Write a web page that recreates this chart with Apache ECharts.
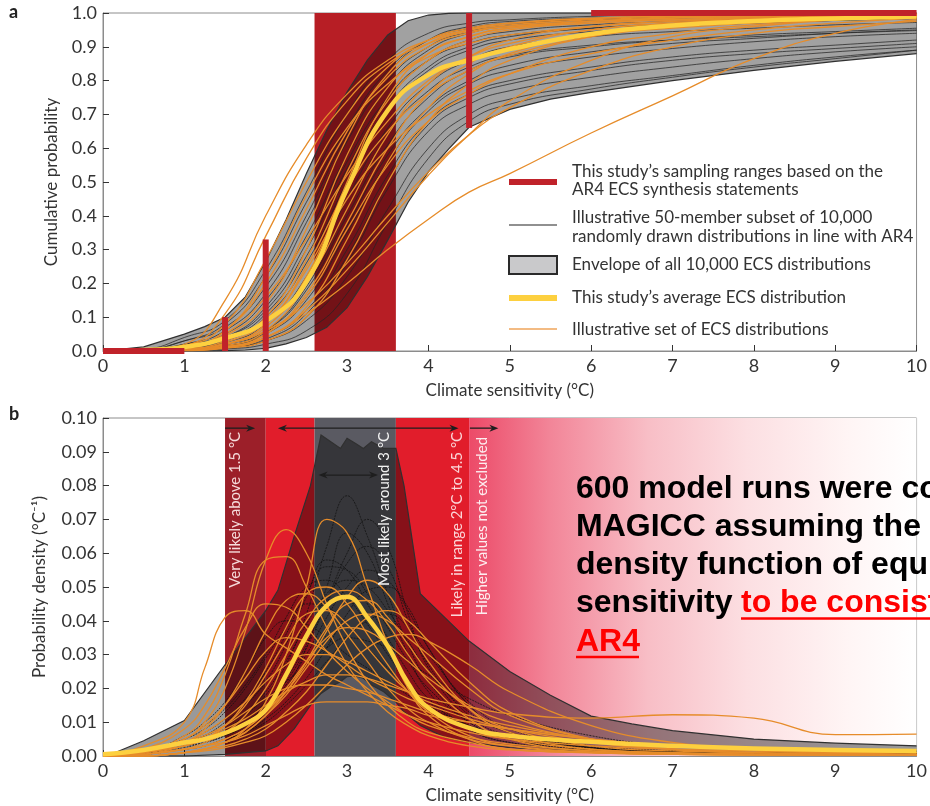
<!DOCTYPE html>
<html>
<head>
<meta charset="utf-8">
<script src="https://cdn.jsdelivr.net/npm/echarts@6.0.0/dist/echarts.min.js"></script>
<style>
  html, body { margin: 0; padding: 0; background: #fff; }
  #chart { width: 930px; height: 806px; }
</style>
</head>
<body>
<div id="chart"></div>
<script>
// ---------------- Panel a: cumulative probability ----------------
const XA = [0, 0.5, 1, 1.5, 2, 2.5, 3, 3.5, 4, 4.5, 5, 6, 7, 8, 9, 10];

// envelope of all ECS distributions (cumulative)
const ENV_A_X  = [0, 0.5, 1, 1.25, 1.5, 1.75, 2, 2.25, 2.5, 2.75, 3, 3.25, 3.5, 3.75, 4, 4.25, 4.5, 5, 5.5, 6, 7, 8, 9, 10];
const ENV_A_HI = [0, 0.012, 0.05, 0.072, 0.10, 0.16, 0.265, 0.388, 0.525, 0.653, 0.766, 0.861, 0.935, 0.977, 0.994, 0.999, 1, 1, 1, 1, 1, 1, 1, 1];
const ENV_A_LO = [0, 0, 0, 0, 0.001, 0.003, 0.008, 0.021, 0.04, 0.07, 0.128, 0.22, 0.328, 0.44, 0.53, 0.598, 0.662, 0.715, 0.745, 0.765, 0.80, 0.83, 0.857, 0.88];

// average ECS distribution (cumulative)
const AVG_A = [0, 0.003, 0.012, 0.038, 0.088, 0.205, 0.48, 0.712, 0.817, 0.861, 0.893, 0.938, 0.963, 0.976, 0.984, 0.99];

// illustrative 50-member subset (shown members)
const BLACK_A = [
  [0, 0.005, 0.04, 0.09, 0.24, 0.47, 0.7, 0.86, 0.94, 0.97, 0.98, 0.99, 0.995, 0.997, 0.998, 0.999],
  [0, 0.003, 0.03, 0.07, 0.19, 0.4, 0.64, 0.82, 0.92, 0.96, 0.975, 0.985, 0.99, 0.994, 0.996, 0.998],
  [0, 0.002, 0.02, 0.05, 0.15, 0.34, 0.58, 0.78, 0.89, 0.94, 0.96, 0.975, 0.984, 0.99, 0.993, 0.995],
  [0, 0.001, 0.015, 0.04, 0.12, 0.3, 0.54, 0.74, 0.86, 0.92, 0.945, 0.965, 0.975, 0.983, 0.988, 0.992],
  [0, 0.001, 0.01, 0.03, 0.1, 0.26, 0.5, 0.71, 0.83, 0.89, 0.92, 0.945, 0.96, 0.97, 0.978, 0.985],
  [0, 0.001, 0.008, 0.025, 0.08, 0.22, 0.45, 0.66, 0.79, 0.86, 0.9, 0.93, 0.945, 0.955, 0.965, 0.972],
  [0, 0, 0.006, 0.02, 0.06, 0.18, 0.4, 0.61, 0.75, 0.83, 0.87, 0.9, 0.92, 0.935, 0.945, 0.955],
  [0, 0, 0.005, 0.015, 0.05, 0.15, 0.35, 0.56, 0.71, 0.79, 0.83, 0.87, 0.895, 0.915, 0.93, 0.94],
  [0, 0, 0.004, 0.012, 0.04, 0.12, 0.3, 0.52, 0.68, 0.76, 0.8, 0.84, 0.87, 0.89, 0.905, 0.92],
  [0, 0, 0.003, 0.01, 0.03, 0.1, 0.26, 0.48, 0.65, 0.73, 0.77, 0.81, 0.84, 0.865, 0.885, 0.9],
  [0, 0.002, 0.02, 0.06, 0.17, 0.38, 0.62, 0.8, 0.9, 0.945, 0.965, 0.98, 0.988, 0.992, 0.995, 0.997],
  [0, 0.001, 0.012, 0.035, 0.11, 0.28, 0.52, 0.72, 0.84, 0.9, 0.93, 0.955, 0.968, 0.977, 0.984, 0.99],
  [0, 0, 0.004, 0.015, 0.055, 0.16, 0.37, 0.58, 0.72, 0.8, 0.845, 0.885, 0.91, 0.925, 0.94, 0.95],
  [0, 0, 0.003, 0.01, 0.035, 0.11, 0.28, 0.5, 0.67, 0.75, 0.79, 0.83, 0.86, 0.88, 0.895, 0.91],
  [0, 0, 0.002, 0.006, 0.02, 0.06, 0.17, 0.38, 0.57, 0.68, 0.73, 0.775, 0.81, 0.84, 0.865, 0.89],
  [0, 0.004, 0.03, 0.08, 0.22, 0.44, 0.66, 0.83, 0.92, 0.955, 0.97, 0.98, 0.986, 0.99, 0.993, 0.995],
  [0, 0.001, 0.012, 0.04, 0.13, 0.32, 0.56, 0.75, 0.86, 0.91, 0.935, 0.955, 0.965, 0.972, 0.978, 0.983],
  [0, 0, 0.004, 0.015, 0.06, 0.19, 0.42, 0.64, 0.77, 0.84, 0.875, 0.905, 0.92, 0.93, 0.94, 0.948],
  [0, 0, 0.002, 0.008, 0.03, 0.09, 0.22, 0.42, 0.6, 0.7, 0.745, 0.785, 0.815, 0.845, 0.87, 0.89]
];

// illustrative set of ECS distributions (cumulative)
const ORANGE_A = [
  [0, 0.002, 0.02, 0.15, 0.40, 0.61, 0.76, 0.86, 0.92, 0.95, 0.965, 0.98, 0.988, 0.992, 0.995, 0.997],
  [0, 0.002, 0.015, 0.11, 0.34, 0.57, 0.74, 0.85, 0.91, 0.945, 0.96, 0.975, 0.985, 0.99, 0.993, 0.995],
  [0, 0.002, 0.015, 0.08, 0.27, 0.5, 0.7, 0.84, 0.92, 0.955, 0.97, 0.983, 0.99, 0.993, 0.995, 0.997],
  [0, 0.001, 0.01, 0.06, 0.2, 0.42, 0.65, 0.81, 0.9, 0.94, 0.96, 0.975, 0.985, 0.99, 0.993, 0.995],
  [0, 0.001, 0.008, 0.045, 0.14, 0.36, 0.63, 0.82, 0.91, 0.95, 0.97, 0.985, 0.99, 0.993, 0.995, 0.997],
  [0, 0, 0.005, 0.025, 0.09, 0.27, 0.53, 0.74, 0.86, 0.92, 0.95, 0.97, 0.98, 0.987, 0.99, 0.993],
  [0, 0, 0.004, 0.02, 0.07, 0.22, 0.5, 0.75, 0.88, 0.93, 0.955, 0.97, 0.98, 0.987, 0.99, 0.993],
  [0, 0, 0.003, 0.015, 0.06, 0.2, 0.42, 0.64, 0.79, 0.87, 0.92, 0.96, 0.975, 0.985, 0.99, 0.993],
  [0, 0, 0.003, 0.02, 0.08, 0.25, 0.48, 0.65, 0.76, 0.83, 0.875, 0.93, 0.955, 0.97, 0.98, 0.988],
  [0, 0, 0.002, 0.01, 0.05, 0.17, 0.38, 0.6, 0.76, 0.85, 0.9, 0.95, 0.97, 0.98, 0.987, 0.99],
  [0, 0, 0.002, 0.012, 0.04, 0.13, 0.33, 0.56, 0.72, 0.82, 0.88, 0.94, 0.965, 0.978, 0.985, 0.99],
  [0, 0, 0.001, 0.008, 0.03, 0.1, 0.27, 0.5, 0.68, 0.79, 0.86, 0.93, 0.96, 0.975, 0.985, 0.99],
  [0, 0, 0.003, 0.02, 0.06, 0.14, 0.26, 0.4, 0.53, 0.64, 0.72, 0.83, 0.9, 0.94, 0.96, 0.975],
  [0, 0, 0.002, 0.01, 0.04, 0.11, 0.2, 0.3, 0.39, 0.47, 0.525, 0.645, 0.755, 0.865, 0.94, 0.98],
  [0, 0, 0.002, 0.01, 0.04, 0.12, 0.24, 0.38, 0.52, 0.64, 0.74, 0.86, 0.93, 0.96, 0.98, 0.99],
  [0, 0.001, 0.006, 0.03, 0.1, 0.3, 0.58, 0.78, 0.88, 0.93, 0.955, 0.975, 0.985, 0.99, 0.993, 0.995],
  [0, 0, 0.004, 0.02, 0.08, 0.24, 0.45, 0.6, 0.7, 0.77, 0.82, 0.88, 0.92, 0.95, 0.97, 0.985],
  [0, 0.001, 0.01, 0.05, 0.16, 0.33, 0.52, 0.68, 0.8, 0.87, 0.91, 0.95, 0.97, 0.982, 0.99, 0.995],
  [0, 0, 0.002, 0.012, 0.05, 0.16, 0.36, 0.55, 0.68, 0.76, 0.82, 0.9, 0.94, 0.965, 0.98, 0.99],
  [0, 0.002, 0.012, 0.06, 0.22, 0.46, 0.66, 0.79, 0.87, 0.91, 0.935, 0.96, 0.975, 0.985, 0.99, 0.995]
];

// sampling ranges from the AR4 synthesis statements: [x0, y0, x1, y1]
const SAMPLING_A = [[0, 0, 1, 0], [1.5, 0, 1.5, 0.1], [2, 0, 2, 0.33], [4.5, 0.66, 4.5, 1], [6, 1, 10, 1]];
// "most likely" range band
const BANDS_A = [[2.6, 3.6]];

// ---------------- Panel b: probability density ----------------
const XB = [0, 0.5, 1, 1.25, 1.5, 1.75, 2, 2.25, 2.5, 2.75, 3, 3.25, 3.5, 3.75, 4, 4.5, 5, 6, 7, 8, 9, 10];

const ENV_B_X  = [0.1, 0.5, 1, 1.5, 2, 2.15, 2.35, 2.55, 2.68, 2.8, 2.92, 3.0, 3.1, 3.2, 3.3, 3.45, 3.6, 3.7, 3.9, 4.2, 4.5, 5, 5.5, 6, 6.5, 7, 8, 9, 10];
const ENV_B_HI = [0.0005, 0.0045, 0.0105, 0.027, 0.043, 0.049, 0.065, 0.080, 0.095, 0.093, 0.091, 0.094, 0.0925, 0.091, 0.093, 0.091, 0.091, 0.080, 0.048, 0.041, 0.034, 0.025, 0.018, 0.0118, 0.0095, 0.0075, 0.005, 0.0038, 0.003];
const ENV_B_LO = [0, 0, 0, 0.0005, 0.0015, 0.003, 0.008, 0.015, 0.0185, 0.0205, 0.022, 0.0235, 0.0237, 0.023, 0.021, 0.019, 0.016, 0.013, 0.009, 0.0055, 0.004, 0.0025, 0.0018, 0.0013, 0.001, 0.0009, 0.0008, 0.0007, 0.0006];

const AVG_B = [0.0005, 0.0018, 0.004, 0.005, 0.0068, 0.0095, 0.0137, 0.024, 0.0355, 0.0445, 0.0471, 0.041, 0.0325, 0.0215, 0.0142, 0.0083, 0.006, 0.0042, 0.003, 0.0022, 0.0018, 0.0015];

const BLACK_B = [
  [0, 0.0008, 0.003, 0.005, 0.008, 0.012, 0.018, 0.027, 0.042, 0.062, 0.077, 0.065, 0.048, 0.033, 0.022, 0.01, 0.005, 0.002, 0.001, 0.0009, 0.0008, 0.0007],
  [0, 0.0008, 0.003, 0.005, 0.008, 0.011, 0.016, 0.023, 0.033, 0.046, 0.06, 0.07, 0.062, 0.042, 0.026, 0.011, 0.005, 0.002, 0.0012, 0.0009, 0.0008, 0.0007],
  [0, 0.0008, 0.003, 0.005, 0.007, 0.01, 0.015, 0.022, 0.032, 0.045, 0.057, 0.062, 0.056, 0.04, 0.027, 0.012, 0.006, 0.0025, 0.0012, 0.0009, 0.0008, 0.0007],
  [0, 0.001, 0.004, 0.006, 0.01, 0.015, 0.022, 0.033, 0.047, 0.058, 0.055, 0.045, 0.035, 0.025, 0.017, 0.008, 0.004, 0.0018, 0.001, 0.0009, 0.0008, 0.0007],
  [0, 0.001, 0.004, 0.006, 0.009, 0.013, 0.019, 0.028, 0.039, 0.048, 0.052, 0.05, 0.043, 0.034, 0.025, 0.013, 0.007, 0.003, 0.0015, 0.001, 0.0008, 0.0007],
  [0, 0.001, 0.005, 0.008, 0.013, 0.02, 0.029, 0.038, 0.045, 0.044, 0.039, 0.032, 0.026, 0.02, 0.015, 0.009, 0.005, 0.0025, 0.0013, 0.001, 0.0008, 0.0007],
  [0, 0.0005, 0.002, 0.003, 0.005, 0.007, 0.01, 0.015, 0.021, 0.028, 0.035, 0.04, 0.042, 0.038, 0.03, 0.016, 0.008, 0.003, 0.0015, 0.001, 0.0008, 0.0007],
  [0, 0.0005, 0.002, 0.003, 0.005, 0.007, 0.011, 0.016, 0.023, 0.032, 0.042, 0.049, 0.05, 0.044, 0.032, 0.015, 0.007, 0.0025, 0.0012, 0.0009, 0.0008, 0.0007],
  [0, 0.001, 0.004, 0.006, 0.009, 0.013, 0.017, 0.022, 0.027, 0.032, 0.035, 0.034, 0.032, 0.028, 0.024, 0.017, 0.012, 0.006, 0.003, 0.002, 0.0015, 0.0012],
  [0, 0.001, 0.006, 0.01, 0.016, 0.025, 0.035, 0.04, 0.039, 0.035, 0.03, 0.026, 0.022, 0.018, 0.014, 0.009, 0.006, 0.003, 0.0015, 0.001, 0.0008, 0.0007],
  [0, 0.0008, 0.003, 0.004, 0.006, 0.009, 0.013, 0.02, 0.032, 0.05, 0.066, 0.06, 0.045, 0.03, 0.019, 0.008, 0.004, 0.0017, 0.001, 0.0008, 0.0007, 0.0006],
  [0, 0.001, 0.004, 0.007, 0.011, 0.017, 0.025, 0.036, 0.048, 0.056, 0.055, 0.048, 0.038, 0.028, 0.02, 0.01, 0.005, 0.0022, 0.0012, 0.0009, 0.0008, 0.0007],
  [0, 0.0006, 0.0025, 0.004, 0.006, 0.009, 0.014, 0.021, 0.03, 0.041, 0.05, 0.055, 0.052, 0.043, 0.032, 0.015, 0.007, 0.0025, 0.0012, 0.0009, 0.0008, 0.0007],
  [0, 0.001, 0.005, 0.009, 0.014, 0.021, 0.03, 0.041, 0.05, 0.052, 0.047, 0.039, 0.03, 0.022, 0.016, 0.009, 0.005, 0.0023, 0.0012, 0.0009, 0.0008, 0.0007]
];

const ORANGE_B = [
  [0, 0.003, 0.01, 0.026, 0.041, 0.043, 0.036, 0.032, 0.028, 0.024, 0.021, 0.018, 0.015, 0.012, 0.01, 0.007, 0.005, 0.003, 0.002, 0.0015, 0.001, 0.001],
  [0, 0.001, 0.005, 0.01, 0.02, 0.037, 0.058, 0.067, 0.06, 0.045, 0.032, 0.022, 0.015, 0.01, 0.007, 0.004, 0.002, 0.001, 0.0005, 0.0003, 0.0003, 0.0003],
  [0, 0.001, 0.006, 0.012, 0.024, 0.042, 0.058, 0.059, 0.05, 0.038, 0.027, 0.019, 0.013, 0.009, 0.006, 0.003, 0.0018, 0.001, 0.0005, 0.0005, 0.0005, 0.0005],
  [0, 0, 0.001, 0.002, 0.004, 0.008, 0.016, 0.03, 0.05, 0.07, 0.066, 0.05, 0.033, 0.02, 0.012, 0.005, 0.002, 0.001, 0.0005, 0.0003, 0.0003, 0.0003],
  [0, 0.0005, 0.002, 0.003, 0.005, 0.008, 0.013, 0.019, 0.027, 0.037, 0.047, 0.052, 0.048, 0.038, 0.028, 0.014, 0.007, 0.002, 0.001, 0.0005, 0.0004, 0.0003],
  [0, 0.0005, 0.002, 0.004, 0.007, 0.012, 0.02, 0.03, 0.04, 0.047, 0.049, 0.046, 0.039, 0.03, 0.022, 0.011, 0.005, 0.0015, 0.0008, 0.0005, 0.0004, 0.0003],
  [0, 0.001, 0.004, 0.008, 0.015, 0.025, 0.037, 0.046, 0.048, 0.044, 0.036, 0.028, 0.02, 0.014, 0.01, 0.005, 0.003, 0.0012, 0.0008, 0.0005, 0.0004, 0.0003],
  [0, 0.002, 0.008, 0.015, 0.026, 0.038, 0.045, 0.044, 0.038, 0.031, 0.025, 0.02, 0.016, 0.012, 0.009, 0.0055, 0.0035, 0.0015, 0.0008, 0.0005, 0.0004, 0.0003],
  [0, 0.001, 0.004, 0.006, 0.009, 0.013, 0.017, 0.02, 0.021, 0.021, 0.02, 0.019, 0.017, 0.015, 0.013, 0.01, 0.008, 0.005, 0.003, 0.002, 0.0015, 0.001],
  [0, 0.0005, 0.002, 0.003, 0.004, 0.006, 0.009, 0.012, 0.015, 0.016, 0.016, 0.016, 0.015, 0.014, 0.012, 0.01, 0.008, 0.005, 0.003, 0.002, 0.0015, 0.001],
  [0, 0.001, 0.003, 0.005, 0.008, 0.011, 0.015, 0.019, 0.022, 0.024, 0.024, 0.023, 0.021, 0.019, 0.017, 0.0145, 0.0125, 0.0112, 0.0122, 0.0112, 0.0063, 0.0065],
  [0, 0, 0.001, 0.002, 0.003, 0.005, 0.008, 0.013, 0.019, 0.027, 0.035, 0.041, 0.043, 0.04, 0.034, 0.022, 0.013, 0.005, 0.002, 0.001, 0.0005, 0.0003],
  [0, 0, 0.001, 0.0015, 0.0025, 0.004, 0.006, 0.01, 0.015, 0.021, 0.027, 0.032, 0.035, 0.036, 0.034, 0.027, 0.019, 0.009, 0.004, 0.002, 0.001, 0.0005],
  [0, 0.001, 0.003, 0.005, 0.009, 0.015, 0.024, 0.034, 0.042, 0.043, 0.039, 0.032, 0.025, 0.019, 0.014, 0.008, 0.005, 0.002, 0.001, 0.0006, 0.0004, 0.0003],
  [0, 0.0005, 0.002, 0.003, 0.005, 0.008, 0.013, 0.02, 0.028, 0.035, 0.038, 0.037, 0.033, 0.028, 0.023, 0.015, 0.01, 0.005, 0.003, 0.002, 0.0015, 0.001],
  [0, 0.001, 0.004, 0.007, 0.011, 0.016, 0.022, 0.027, 0.03, 0.03, 0.028, 0.025, 0.022, 0.019, 0.016, 0.012, 0.009, 0.005, 0.003, 0.002, 0.0015, 0.001],
  [0, 0, 0.001, 0.002, 0.004, 0.007, 0.012, 0.019, 0.028, 0.038, 0.045, 0.046, 0.041, 0.033, 0.025, 0.014, 0.008, 0.003, 0.0015, 0.001, 0.0005, 0.0003],
  [0, 0.001, 0.005, 0.009, 0.015, 0.023, 0.031, 0.035, 0.034, 0.031, 0.027, 0.023, 0.02, 0.017, 0.015, 0.011, 0.008, 0.004, 0.002, 0.0015, 0.001, 0.001],
  [0, 0.0005, 0.003, 0.005, 0.009, 0.016, 0.026, 0.038, 0.048, 0.05, 0.045, 0.036, 0.027, 0.019, 0.013, 0.006, 0.003, 0.001, 0.0005, 0.0003, 0.0003, 0.0003],
  [0, 0, 0.001, 0.002, 0.004, 0.007, 0.012, 0.018, 0.026, 0.034, 0.04, 0.042, 0.04, 0.035, 0.03, 0.02, 0.012, 0.005, 0.002, 0.001, 0.0008, 0.0005]
];

// AR4 statement bands: [x0, x1]
const BANDS_B = [[1.5, 2.0], [2.0, 2.6], [2.6, 3.6], [3.6, 4.5], [4.5, 10]];
// arrows: [x0, x1, y, headAtStart, headAtEnd]
const ARROWS_B = [[1.5, 1.87, 0.097, 0, 1], [2.15, 4.37, 0.097, 1, 1], [4.51, 4.86, 0.097, 0, 1], [2.65, 3.38, 0.0831, 1, 1]];
// vertical statement labels, anchored at their top end
const NOTE_POS_B = [[1.63, 0.0959], [3.46, 0.0959], [4.35, 0.0959], [4.66, 0.0944]];
const NOTE_TEXT_B = ['Very likely above 1.5 °C', 'Most likely around 3 °C', 'Likely in range 2°C to 4.5 °C', 'Higher values not excluded'];

// ---------------- styling ----------------
const FONT = 'Lato, "Open Sans", sans-serif';
const AXIS_GREY = '#8c8c8c';
const RED_BAR = '#c0222a';
const ORANGE = '#e68c2a';
const YELLOW = '#fdd03f';

const BAND_A_FILLS = ['#b71e25'];
const BAND_B_FILLS = [
  '#9c1f29', '#e11d2b', '#5a5a62', '#e11d2b',
  new echarts.graphic.LinearGradient(0, 0, 1, 0, [
    { offset: 0, color: '#ec4a68' },
    { offset: 0.18, color: '#f28598' },
    { offset: 0.4, color: '#f8bec6' },
    { offset: 0.62, color: '#fcdfe2' },
    { offset: 0.85, color: '#fff5f5' },
    { offset: 1, color: '#ffffff' }
  ])
];
const NOTE_COLORS_B = ['#f6dcdc', '#f2f2f2', '#fbd6d8', '#fdeef0'];

function curve(g, xs, ys, color, width, z, smooth, type) {
  return {
    type: 'line', xAxisIndex: g, yAxisIndex: g,
    data: xs.map((x, i) => [x, ys[i]]),
    symbol: 'none', smooth: smooth,
    lineStyle: { color: color, width: width, type: type || 'solid' },
    z: z, silent: true
  };
}

function bandSeries(g, bands, fills, yTop) {
  return {
    type: 'custom', xAxisIndex: g, yAxisIndex: g, z: 1, silent: true,
    data: bands.map(b => [b[0], b[1]]),
    encode: { x: [0, 1] },
    renderItem: (params, api) => {
      const p0 = api.coord([api.value(0), yTop]);
      const p1 = api.coord([api.value(1), 0]);
      return {
        type: 'rect',
        shape: { x: p0[0], y: p0[1], width: p1[0] - p0[0], height: p1[1] - p0[1] },
        style: { fill: fills[params.dataIndex] }
      };
    }
  };
}

function envelopeSeries(g, xs, lo, hi, fill) {
  return {
    type: 'custom', xAxisIndex: g, yAxisIndex: g, z: 2, silent: true,
    data: [[xs[0], lo[0]]],
    renderItem: (params, api) => {
      const top = xs.map((x, i) => api.coord([x, hi[i]]));
      const bot = xs.map((x, i) => api.coord([x, lo[i]]));
      return {
        type: 'group',
        children: [
          { type: 'polygon', shape: { points: top.concat(bot.slice().reverse()) }, style: { fill: fill } },
          { type: 'polyline', shape: { points: top }, style: { stroke: '#303030', lineWidth: 1.2, fill: null } },
          { type: 'polyline', shape: { points: bot }, style: { stroke: '#303030', lineWidth: 1.2, fill: null } }
        ]
      };
    }
  };
}

function arrowSeries(g, arrows) {
  return {
    type: 'custom', xAxisIndex: g, yAxisIndex: g, z: 7, silent: true,
    data: arrows.map(a => [a[0], a[2]]),
    renderItem: (params, api) => {
      const a = arrows[params.dataIndex];
      const p0 = api.coord([a[0], a[2]]);
      const p1 = api.coord([a[1], a[2]]);
      const L = 9, W = 3.5;
      const kids = [{ type: 'line', shape: { x1: p0[0] + (a[3] ? 4 : 0), y1: p0[1], x2: p1[0] - (a[4] ? 4 : 0), y2: p1[1] },
                      style: { stroke: '#1e1e1e', lineWidth: 1.3 } }];
      if (a[3]) kids.push({ type: 'polygon', shape: { points: [[p0[0], p0[1]], [p0[0] + L, p0[1] - W], [p0[0] + L * 0.7, p0[1]], [p0[0] + L, p0[1] + W]] }, style: { fill: '#1e1e1e' } });
      if (a[4]) kids.push({ type: 'polygon', shape: { points: [[p1[0], p1[1]], [p1[0] - L, p1[1] - W], [p1[0] - L * 0.7, p1[1]], [p1[0] - L, p1[1] + W]] }, style: { fill: '#1e1e1e' } });
      return { type: 'group', children: kids };
    }
  };
}

function noteSeries(g, pos, texts, colors) {
  return {
    type: 'custom', xAxisIndex: g, yAxisIndex: g, z: 7, silent: true,
    data: pos,
    renderItem: (params, api) => {
      const p = api.coord([api.value(0), api.value(1)]);
      return {
        type: 'text', x: p[0], y: p[1], rotation: Math.PI / 2,
        style: { text: texts[params.dataIndex], fill: colors[params.dataIndex],
                 fontSize: 15, fontFamily: FONT, align: 'right', verticalAlign: 'middle' }
      };
    }
  };
}

const series = [];
// panel a
series.push(bandSeries(0, BANDS_A, BAND_A_FILLS, 1));
series.push(envelopeSeries(0, ENV_A_X, ENV_A_LO, ENV_A_HI, 'rgba(0,0,0,0.37)'));
BLACK_A.forEach(ys => series.push(curve(0, XA, ys, '#262626', 0.75, 3, 0.5)));
ORANGE_A.forEach(ys => series.push(curve(0, XA, ys, ORANGE, 1.3, 4, 0.5)));
series.push(curve(0, XA, AVG_A, YELLOW, 4.5, 5, 0.5));
SAMPLING_A.forEach(s => series.push({
  type: 'line', xAxisIndex: 0, yAxisIndex: 0, data: [[s[0], s[1]], [s[2], s[3]]],
  symbol: 'none', clip: false, silent: true, z: 6,
  lineStyle: { color: RED_BAR, width: 6, cap: 'butt' }
}));
// panel b
series.push(bandSeries(1, BANDS_B, BAND_B_FILLS, 0.1));
series.push(envelopeSeries(1, ENV_B_X, ENV_B_LO, ENV_B_HI, 'rgba(0,0,0,0.4)'));
BLACK_B.forEach(ys => series.push(curve(1, XB, ys, '#141414', 0.8, 3, 0.45, [2, 1])));
ORANGE_B.forEach(ys => series.push(curve(1, XB, ys, ORANGE, 1.3, 4, 0.45)));
series.push(curve(1, XB, AVG_B, YELLOW, 4.5, 5, 0.45));
series.push(arrowSeries(1, ARROWS_B));
series.push(noteSeries(1, NOTE_POS_B, NOTE_TEXT_B, NOTE_COLORS_B));

function xAxisCfg(g) {
  return {
    gridIndex: g, type: 'value', min: 0, max: 10, interval: 1,
    name: 'Climate sensitivity (°C)', nameLocation: 'middle', nameGap: 31,
    nameTextStyle: { fontSize: 17, color: '#333', fontFamily: FONT },
    axisLine: { show: true, lineStyle: { color: AXIS_GREY, width: 1 } },
    axisTick: { show: true, inside: true, length: 6, lineStyle: { color: '#333' } },
    axisLabel: { color: '#333', fontSize: 18, fontFamily: FONT, margin: 6 },
    splitLine: { show: false }
  };
}
function yAxisCfg(g, max, step, digits, name, gap) {
  return {
    gridIndex: g, type: 'value', min: 0, max: max, interval: step,
    name: name, nameLocation: 'middle', nameGap: gap,
    nameTextStyle: { fontSize: 17, color: '#333', fontFamily: FONT },
    axisLine: { show: true, lineStyle: { color: AXIS_GREY, width: 1 } },
    axisTick: { show: true, inside: true, length: 6, lineStyle: { color: '#333' } },
    axisLabel: { color: '#333', fontSize: 18, fontFamily: FONT, margin: 6, formatter: v => v.toFixed(digits) },
    splitLine: { show: false }
  };
}

const LEG_TXT = { font: '17px ' + FONT, fill: '#333', verticalAlign: 'middle' };
const BIG = 'bold 32px "Liberation Sans", Arial, sans-serif';

const graphic = [
  { type: 'text', x: 9, y: 12, style: { text: 'a', font: 'bold 18px ' + FONT, fill: '#222', verticalAlign: 'middle' } },
  { type: 'text', x: 9, y: 414, style: { text: 'b', font: 'bold 18px ' + FONT, fill: '#222', verticalAlign: 'middle' } },
  // legend of panel a
  { type: 'line', shape: { x1: 509, y1: 182, x2: 557, y2: 182 }, style: { stroke: RED_BAR, lineWidth: 6 } },
  { type: 'text', x: 572, y: 172, style: Object.assign({ text: 'This study’s sampling ranges based on the' }, LEG_TXT) },
  { type: 'text', x: 572, y: 190, style: Object.assign({ text: 'AR4 ECS synthesis statements' }, LEG_TXT) },
  { type: 'line', shape: { x1: 509, y1: 225, x2: 557, y2: 225 }, style: { stroke: '#222', lineWidth: 1.2 } },
  { type: 'text', x: 572, y: 218, style: Object.assign({ text: 'Illustrative 50-member subset of 10,000' }, LEG_TXT) },
  { type: 'text', x: 572, y: 237, style: Object.assign({ text: 'randomly drawn distributions in line with AR4' }, LEG_TXT) },
  { type: 'rect', shape: { x: 509, y: 256, width: 48, height: 18 }, style: { fill: '#c9c9cb', stroke: '#2a2a2a', lineWidth: 2 } },
  { type: 'text', x: 572, y: 265, style: Object.assign({ text: 'Envelope of all 10,000 ECS distributions' }, LEG_TXT) },
  { type: 'line', shape: { x1: 509, y1: 298, x2: 557, y2: 298 }, style: { stroke: YELLOW, lineWidth: 6 } },
  { type: 'text', x: 572, y: 298, style: Object.assign({ text: 'This study’s average ECS distribution' }, LEG_TXT) },
  { type: 'line', shape: { x1: 509, y1: 329, x2: 557, y2: 329 }, style: { stroke: '#efa55a', lineWidth: 1.6 } },
  { type: 'text', x: 572, y: 330, style: Object.assign({ text: 'Illustrative set of ECS distributions' }, LEG_TXT) },
  // statement laid over panel b
  { type: 'text', x: 576, y: 489, z: 100, style: { text: '600 model runs were conducted with', font: BIG, fill: '#000', verticalAlign: 'middle' } },
  { type: 'text', x: 576, y: 527, z: 100, style: { text: 'MAGICC assuming the probability', font: BIG, fill: '#000', verticalAlign: 'middle' } },
  { type: 'text', x: 576, y: 565, z: 100, style: { text: 'density function of equilibrium climate', font: BIG, fill: '#000', verticalAlign: 'middle' } },
  { type: 'text', x: 576, y: 603, z: 100, style: { text: 'sensitivity', font: BIG, fill: '#000', verticalAlign: 'middle' } },
  { type: 'text', x: 741, y: 603, z: 100, style: { text: 'to be consistent with', font: BIG, fill: '#ff0000', verticalAlign: 'middle' } },
  { type: 'line', z: 100, shape: { x1: 741, y1: 618.5, x2: 940, y2: 618.5 }, style: { stroke: '#ff0000', lineWidth: 2.5 } },
  { type: 'text', x: 576, y: 642, z: 100, style: { text: 'AR4', font: BIG, fill: '#ff0000', verticalAlign: 'middle' } },
  { type: 'line', z: 100, shape: { x1: 576, y1: 657, x2: 639, y2: 657 }, style: { stroke: '#ff0000', lineWidth: 2.5 } }
];

const chart = echarts.init(document.getElementById('chart'), null, { renderer: 'canvas', width: 930, height: 806 });
chart.setOption({
  animation: false,
  backgroundColor: '#ffffff',
  grid: [
    { left: 103, top: 13, width: 820, height: 338, show: true, borderColor: AXIS_GREY, borderWidth: 1, backgroundColor: 'transparent' },
    { left: 103, top: 418, width: 820, height: 338, show: true, borderColor: AXIS_GREY, borderWidth: 1, backgroundColor: 'transparent' }
  ],
  xAxis: [xAxisCfg(0), xAxisCfg(1)],
  yAxis: [
    yAxisCfg(0, 1, 0.1, 1, 'Cumulative probability', 43),
    yAxisCfg(1, 0.1, 0.01, 2, 'Probability density (°C⁻¹)', 55)
  ],
  series: series,
  graphic: graphic
});
</script>
</body>
</html>
